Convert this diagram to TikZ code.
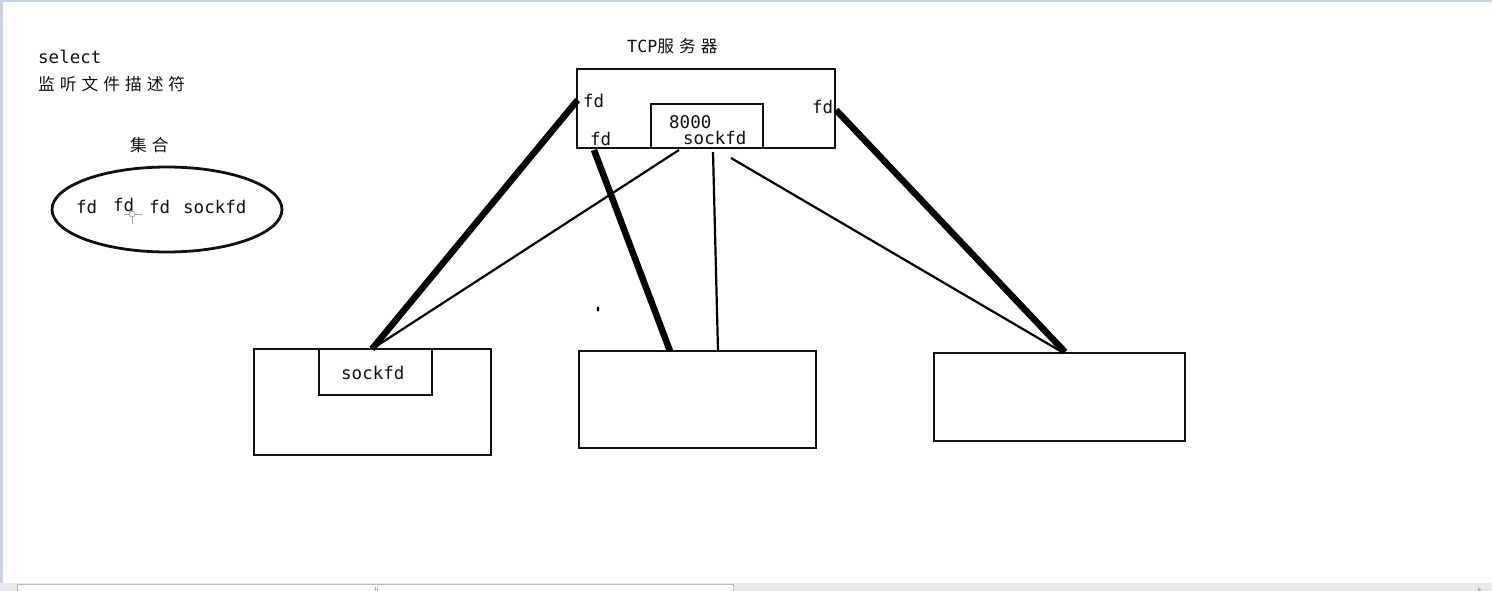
\documentclass[tikz,border=0pt]{standalone}
\usepackage{fontspec}
\usetikzlibrary{shapes.geometric,calc}
\setmainfont{DejaVu Sans Mono}
\newfontfamily\cjk[LetterSpace=30]{Noto Sans CJK SC}
\definecolor{ink}{HTML}{111111}
\definecolor{frame}{HTML}{C9D2E3}
\definecolor{sbar}{HTML}{E9E9E9}
\begin{document}
\begin{tikzpicture}[x=1pt,y=-1pt,
  box/.style={draw=ink, line width=2.8pt, inner sep=0pt, fill=none},
  lbl/.style={text=ink, font=\fontsize{17.5}{17.5}\selectfont, inner sep=0pt, anchor=west},
  clbl/.style={text=ink, font=\fontsize{16.7}{16.7}\selectfont\cjk, inner sep=0pt, anchor=west},
  heavy/.style={draw=black, line width=6.5pt},
  light/.style={draw=black, line width=2.2pt}]
\useasboundingbox (0,0) rectangle (1492,591);
\fill[white] (0,0) rectangle (1492,591);
% window frame
\fill[frame] (0,0) rectangle (1492,2);
\fill[frame] (0,0) rectangle (2.5,583);
\fill[sbar] (0,583) rectangle (1492,591);
\draw[gray!55, fill=gray!4, line width=0.8pt] (17,584.5) rectangle (733,592);
\draw[gray!70, line width=0.6pt] (375,587) -- (375,591) (377,587) -- (377,591);
\fill[gray!60] (1478,587) -- (1482,591) -- (1478,591) -- cycle;

% texts top left
\node[lbl] (sel) at (38,57) {select};
\node[clbl] (mon) at (38,84) {监听文件描述符};
\node[clbl] (set) at (130,145) {集合};

% ellipse set
\node[draw=ink, line width=2.8pt, ellipse, minimum width=230pt, minimum height=85pt, inner sep=0pt] (ell) at (167,209.5) {};
\node[lbl] (e1) at (76,207) {fd};
\node[lbl] (e2) at (113,205) {fd};
\node[lbl] (e3) at (149,207) {fd};
\node[lbl] (e4) at (183,207) {sockfd};
% cursor
\draw[gray!70, line width=0.8pt] (132,206) -- (132,224) (124,214) -- (142,214);
\draw[gray!70, fill=white, line width=0.8pt] (132,214) circle (3);

% server
\node[clbl] (tcp) at (627,46) {\fontspec{DejaVu Sans Mono}TCP\cjk 服务器};
\node[box, minimum width=258pt, minimum height=79pt] (srv) at (706,108.5) {};
\node[box, minimum width=112pt, minimum height=44pt] (sock) at (707,126) {};
\node[lbl] (p8000) at (669,122.5) {8000};
\node[lbl] (ssock) at (683,137.5) {sockfd};
\node[lbl] (fdl) at (583,101) {fd};
\node[lbl] (fdb) at (590,139) {fd};
\node[lbl] (fdr) at (812,107) {fd};

% clients
\node[box, minimum width=237pt, minimum height=106pt] (ca) at (372.5,402) {};
\node[box, minimum width=113pt, minimum height=46pt] (cas) at (375.5,372) {};
\node[lbl] (casl) at (341,373) {sockfd};
\node[box, minimum width=237pt, minimum height=97pt] (cb) at (697.5,399.5) {};
\node[box, minimum width=251pt, minimum height=88pt] (cc) at (1059.5,397) {};

% connector end points
\coordinate (s1) at ($(srv.west)+(2,-8.5)$);
\coordinate (s2) at (594,150);
\coordinate (s3) at (836,110);
\coordinate (t1) at (679,150);
\coordinate (t2) at (713,152);
\coordinate (t3) at (731,158);
\coordinate (a1) at (372,349);
\coordinate (b1) at (670,351);
\coordinate (b2) at (718,351);
\coordinate (c1) at (1065,352);
\coordinate (c2) at (1062,352);

\draw[heavy] (s1) -- (a1);
\draw[heavy] (s2) -- (b1);
\draw[heavy] (s3) -- (c1);
\draw[light] (t1) -- (a1);
\draw[light] (t2) -- (b2);
\draw[light] (t3) -- (c2);

% stray dot
\fill[black] (598,309) ellipse (1.3 and 2.5);
\end{tikzpicture}
\end{document}
